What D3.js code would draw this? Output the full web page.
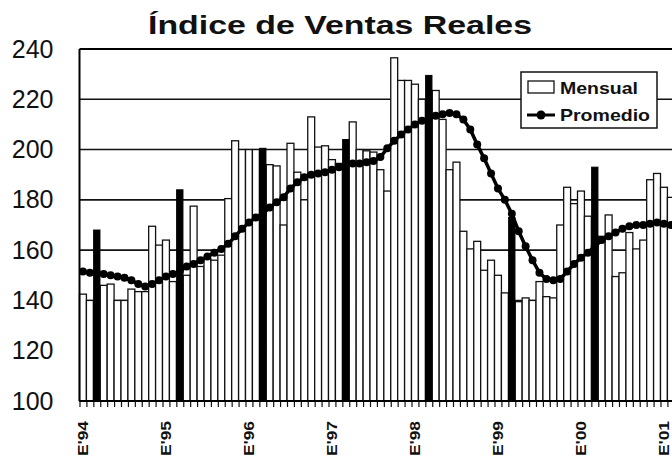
<!DOCTYPE html>
<html>
<head>
<meta charset="utf-8">
<script src="https://cdn.jsdelivr.net/npm/d3@7"></script>
<style>
  body { margin: 0; background: #fff; }
  svg { display: block; font-family: "Liberation Sans", Arial, sans-serif; }
</style>
</head>
<body>
<svg id="chart"></svg>
<script>
// categories
const years = ["94", "95", "96", "97", "98", "99", "00", "01"];
const monthNames = ["Ene", "Feb", "Mar", "Abr", "May", "Jun", "Jul", "Ago", "Sep", "Oct", "Nov", "Dic"];
const highlightMonth = "Mar";
const yTicks = [100, 120, 140, 160, 180, 200, 220, 240];

// Mensual (monthly index), Jan '94 onwards
const mensual = [
  142.5, 140, 168, 146, 146.5, 140, 140, 144.5, 143.5, 143.5, 169.5, 162,
  164, 147.5, 184, 150, 177.5, 153.5, 156.5, 156, 158, 180.5, 203.5, 200,
  200, 200, 200.5, 194, 193.5, 170, 202.5, 191, 180, 213, 201, 201.5,
  196, 194.5, 204, 211, 200, 199.5, 199, 192, 183.5, 236.5, 227.5, 227.5,
  226, 220, 229.5, 223.5, 212, 192, 195, 167.5, 160.5, 163.5, 152, 156,
  150, 143, 173, 139.5, 141, 140, 147.5, 141.5, 141, 170, 185, 178.5,
  183.5, 173.5, 193, 165.5, 174, 149.5, 151, 167, 160.5, 164, 188, 190.5,
  185, 181
];

// Promedio (moving average)
const promedio = [
  151.5, 151, 151, 150.5, 150, 149.5, 149, 148, 146.5, 145.5, 146.5, 148,
  149.5, 150.5, 151.5, 153.5, 154.5, 156, 157.5, 159, 160.5, 162.5, 165.5, 168.5,
  171, 173, 174.5, 177, 179, 181, 184.5, 187, 189, 190, 190.5, 191,
  192, 193, 194, 194.5, 194.5, 195, 195.5, 197, 200.5, 203.5, 206, 208,
  210, 211.5, 212.5, 213.5, 214, 214.5, 214, 212, 208, 202, 196.5, 190.5,
  184.5, 180, 174.5, 167.5, 161.5, 156, 151, 148.5, 148, 148.5, 151.5, 154.5,
  157, 159, 161.5, 164, 165.5, 167, 168.5, 169.5, 170, 170, 170.5, 171,
  170.5, 170
];

const WIDTH = 672;
const HEIGHT = 457;

let categories = [];
years.forEach((yr) => {
  monthNames.forEach((m) => {
    categories.push(m + "'" + yr);
  });
});

let data = mensual.map((v, i) => {
  return { cat: categories[i], month: monthNames[i % 12], mensual: v, promedio: promedio[i] };
});

let svg = d3.select("#chart")
  .attr("width", WIDTH)
  .attr("height", HEIGHT);

let plotLeft = 79.5;
let slot = 83 / 12;
let plotTop = 49;
let plotBottom = 401;

let x = d3.scaleBand()
  .domain(categories)
  .range([plotLeft, plotLeft + categories.length * slot])
  .padding(0);

let xEdge = d3.scaleLinear()
  .domain([0, categories.length])
  .range([plotLeft, plotLeft + categories.length * slot]);

let y = d3.scaleLinear()
  .domain([100, 240])
  .range([plotBottom, plotTop]);

// gridlines
svg.append("g")
  .attr("class", "grid")
  .selectAll("line")
  .data(yTicks.filter(d => d > 100 && d < 240))
  .enter().append("line")
  .attr("x1", plotLeft)
  .attr("x2", WIDTH)
  .attr("y1", d => y(d))
  .attr("y2", d => y(d))
  .style("stroke", "#111")
  .style("stroke-width", 1.6);

// monthly bars
svg.append("g")
  .attr("class", "bars")
  .selectAll("rect")
  .data(data.filter(d => d.month !== highlightMonth))
  .enter().append("rect")
  .attr("x", d => x(d.cat))
  .attr("width", x.bandwidth())
  .attr("y", d => y(d.mensual))
  .attr("height", d => y(100) - y(d.mensual))
  .style("fill", "#fff")
  .style("stroke", "#111")
  .style("stroke-width", 1.3);

// highlighted month (black)
svg.append("g")
  .attr("class", "blackBars")
  .selectAll("rect")
  .data(data.filter(d => d.month === highlightMonth))
  .enter().append("rect")
  .attr("x", d => x(d.cat) + 0.3)
  .attr("width", x.bandwidth() - 0.6)
  .attr("y", d => y(d.mensual))
  .attr("height", d => y(100) - y(d.mensual))
  .style("fill", "#000")
  .style("stroke", "#000")
  .style("stroke-width", 1);

// frame: top, left, bottom
svg.append("line")
  .attr("x1", plotLeft).attr("x2", WIDTH)
  .attr("y1", plotTop).attr("y2", plotTop)
  .style("stroke", "#000").style("stroke-width", 2);

// x axis ticks at every month boundary
let xTickAxis = d3.axisBottom(xEdge)
  .tickValues(d3.range(0, categories.length + 1))
  .tickSize(6)
  .tickFormat("");

let gx = svg.append("g")
  .attr("transform", "translate(0," + plotBottom + ")")
  .call(xTickAxis);
gx.select(".domain").remove();
gx.selectAll(".tick line").style("stroke", "#111").style("stroke-width", 1.2);

svg.append("line")
  .attr("x1", plotLeft).attr("x2", WIDTH)
  .attr("y1", plotBottom).attr("y2", plotBottom)
  .style("stroke", "#000").style("stroke-width", 2);

svg.append("line")
  .attr("x1", plotLeft).attr("x2", plotLeft)
  .attr("y1", plotTop).attr("y2", plotBottom)
  .style("stroke", "#000").style("stroke-width", 2);

// x labels (January of each year)
let xLabelAxis = d3.axisBottom(x)
  .tickValues(categories.filter(c => c.indexOf("Ene") === 0))
  .tickSize(0)
  .tickFormat(c => "E'" + c.split("'")[1]);

let gxl = svg.append("g")
  .attr("transform", "translate(0," + plotBottom + ")")
  .call(xLabelAxis);
gxl.select(".domain").remove();
gxl.selectAll("text")
  .attr("transform", "rotate(-90)")
  .attr("x", -20)
  .attr("y", 0)
  .attr("dy", "0.36em")
  .attr("text-anchor", "end")
  .attr("textLength", 35)
  .attr("lengthAdjust", "spacingAndGlyphs")
  .style("font-family", "'Liberation Sans', Arial, sans-serif")
  .style("font-size", "15px")
  .style("font-weight", "bold")
  .style("fill", "#111");

// y axis labels
let yAxis = d3.axisLeft(y)
  .tickValues(yTicks)
  .tickSize(0)
  .tickPadding(26);

let gy = svg.append("g")
  .attr("transform", "translate(" + plotLeft + ",0)")
  .call(yAxis);
gy.select(".domain").remove();
gy.selectAll("text")
  .style("font-family", "'Liberation Sans', Arial, sans-serif")
  .style("font-size", "25px")
  .style("fill", "#111");

// Promedio line
let line = d3.line()
  .x(d => x(d.cat) + x.bandwidth() / 2)
  .y(d => y(d.promedio));

svg.append("path")
  .datum(data)
  .attr("d", line)
  .style("fill", "none")
  .style("stroke", "#000")
  .style("stroke-width", 3.5);

svg.append("g")
  .attr("class", "dots")
  .selectAll("circle")
  .data(data)
  .enter().append("circle")
  .attr("cx", d => x(d.cat) + x.bandwidth() / 2)
  .attr("cy", d => y(d.promedio))
  .attr("r", 4)
  .style("fill", "#000");

// title
svg.append("text")
  .attr("x", 148)
  .attr("y", 34)
  .attr("textLength", 384)
  .attr("lengthAdjust", "spacingAndGlyphs")
  .style("font-size", "26px")
  .style("font-weight", "bold")
  .style("fill", "#111")
  .text("Índice de Ventas Reales");

// legend
let legend = svg.append("g").attr("class", "legend");

legend.append("rect")
  .attr("x", 521).attr("y", 72)
  .attr("width", 136).attr("height", 56)
  .style("fill", "#fff")
  .style("stroke", "#111")
  .style("stroke-width", 1.5);

legend.append("rect")
  .attr("x", 528).attr("y", 81)
  .attr("width", 26).attr("height", 12)
  .style("fill", "#fff")
  .style("stroke", "#111")
  .style("stroke-width", 1.3);

legend.append("text")
  .attr("x", 560).attr("y", 94)
  .attr("textLength", 78)
  .attr("lengthAdjust", "spacingAndGlyphs")
  .style("font-size", "17px")
  .style("font-weight", "bold")
  .style("fill", "#111")
  .text("Mensual");

legend.append("line")
  .attr("x1", 527).attr("x2", 555)
  .attr("y1", 115).attr("y2", 115)
  .style("stroke", "#000")
  .style("stroke-width", 3);

legend.append("circle")
  .attr("cx", 541).attr("cy", 115)
  .attr("r", 4.5)
  .style("fill", "#000");

legend.append("text")
  .attr("x", 560).attr("y", 121)
  .attr("textLength", 90)
  .attr("lengthAdjust", "spacingAndGlyphs")
  .style("font-size", "17px")
  .style("font-weight", "bold")
  .style("fill", "#111")
  .text("Promedio");
</script>
</body>
</html>
